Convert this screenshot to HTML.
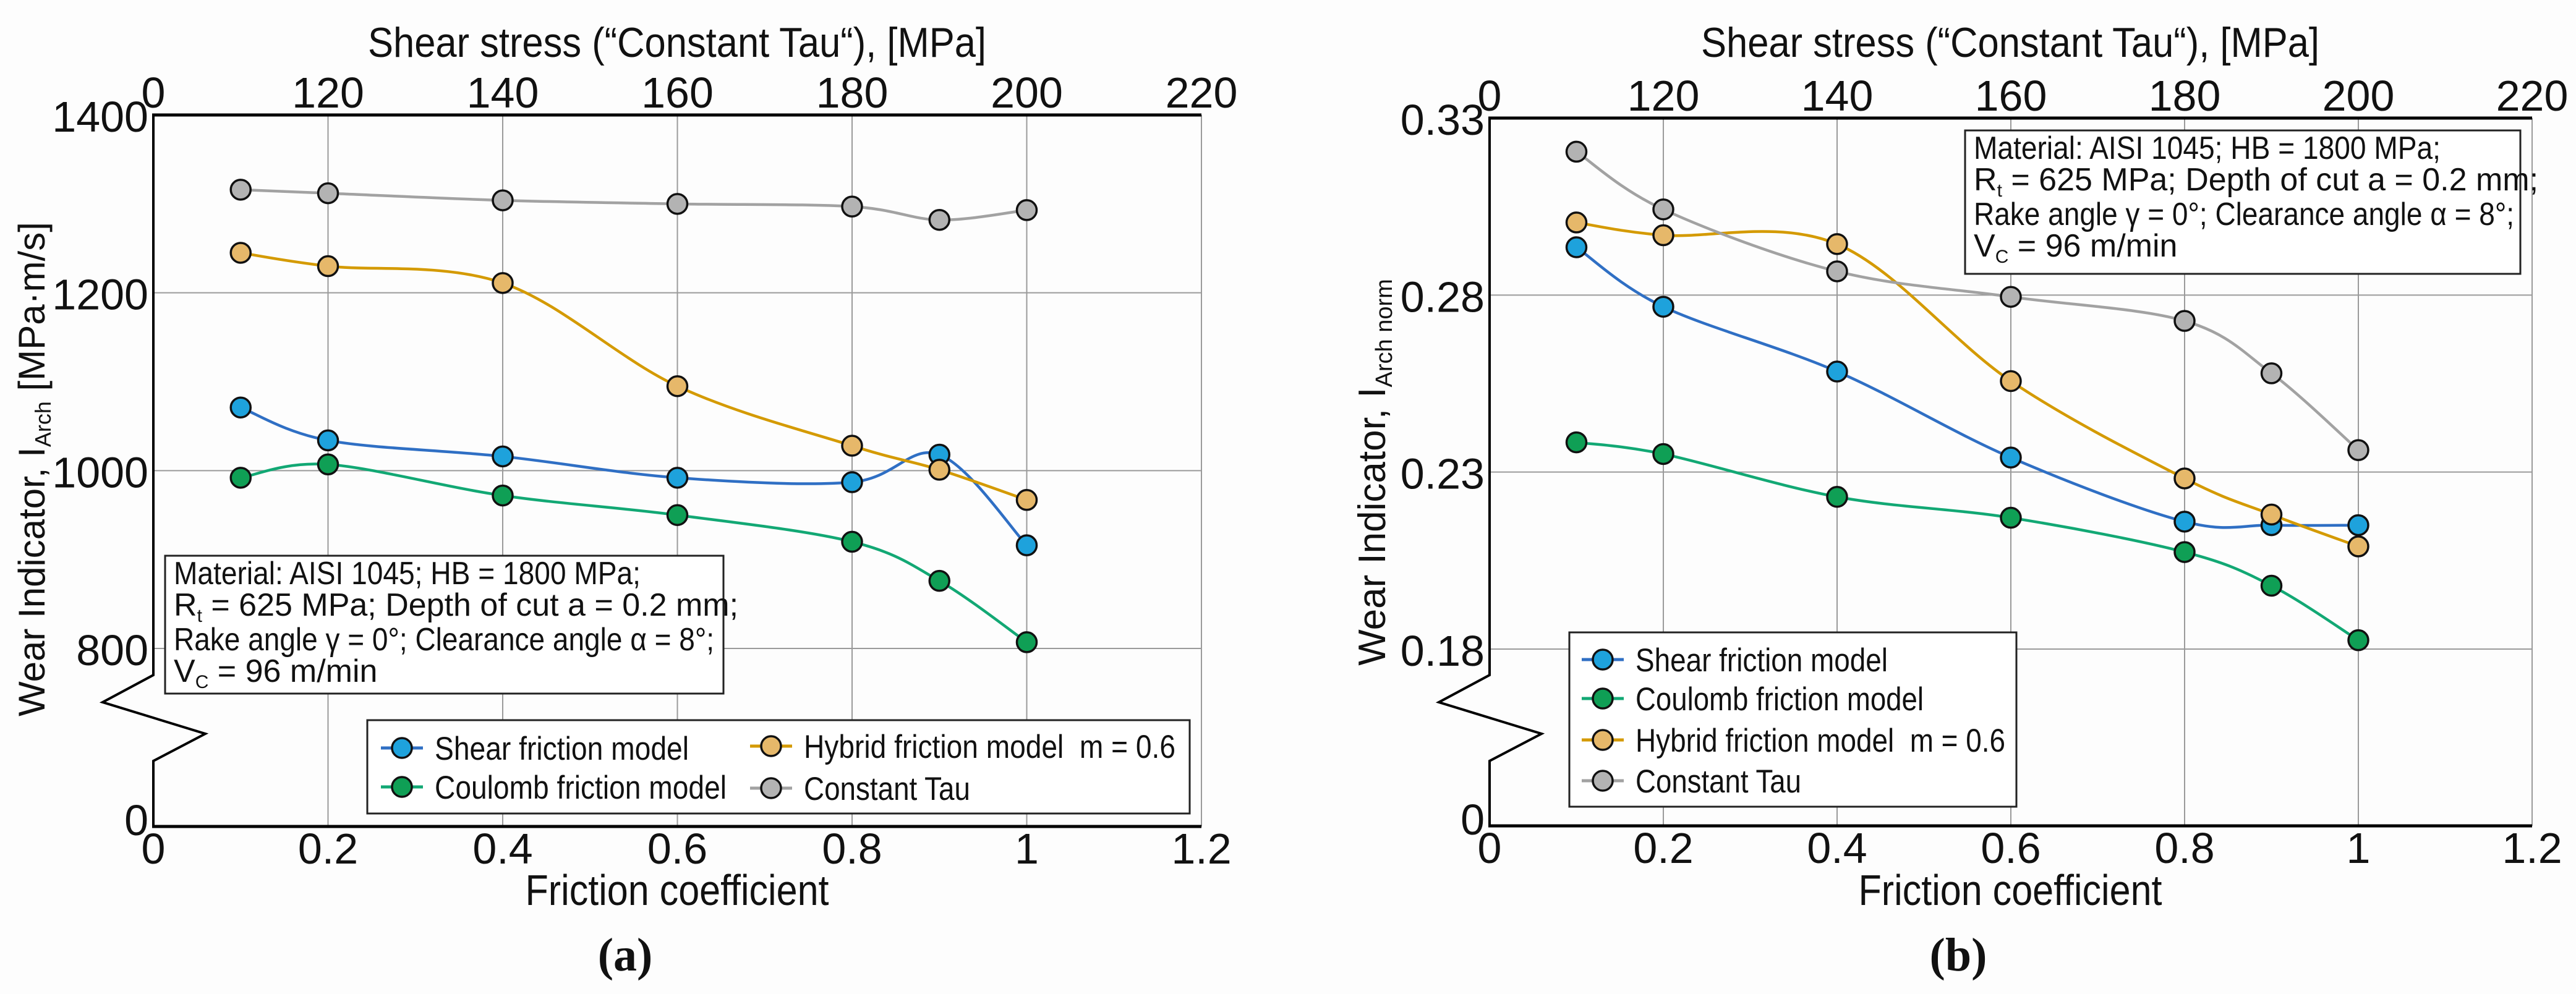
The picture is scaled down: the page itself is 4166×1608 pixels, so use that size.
<!DOCTYPE html>
<html><head><meta charset="utf-8">
<style>
html,body{margin:0;padding:0;background:#fff;}
svg{display:block;}
text{font-family:"Liberation Sans Narrow","Liberation Sans",sans-serif;fill:#111;}
.ser{font-family:"Liberation Serif",serif;font-weight:bold;}
.wide{font-family:"Liberation Sans",sans-serif;}
</style></head>
<body>
<svg id="fig" width="4166" height="1608" viewBox="0 0 4166 1608" xmlns="http://www.w3.org/2000/svg">
<rect width="4166" height="1608" fill="#fdfdfd"/>
</svg>
<script>
// ---- data ----
const frictionX = [0.1, 0.2, 0.4, 0.6, 0.8, 0.9, 1.0];
const seriesNames = ["Shear friction model", "Coulomb friction model", "Hybrid friction model\u00A0\u00A0m = 0.6", "Constant Tau"];
const aShear   = [1071, 1034, 1016, 992, 987, 1018, 916];
const aCoulomb = [992, 1007, 972, 950, 920, 876, 807];
const aHybrid  = [1245, 1230, 1211, 1095, 1028, 1001, 967];
const aTau     = [1316, 1312, 1304, 1300, 1297, 1282, 1293];
const bShear   = [0.2935, 0.2767, 0.2584, 0.2341, 0.2160, 0.2150, 0.2150];
const bCoulomb = [0.2384, 0.2351, 0.2230, 0.2171, 0.2074, 0.1979, 0.1825];
const bHybrid  = [0.3005, 0.2969, 0.2944, 0.2557, 0.2282, 0.2180, 0.2090];
const bTau     = [0.3205, 0.3042, 0.2867, 0.2795, 0.2727, 0.2579, 0.2362];
const xTicks = [0, 0.2, 0.4, 0.6, 0.8, 1, 1.2];
const xTickLabels = ["0", "0.2", "0.4", "0.6", "0.8", "1", "1.2"];
const topTickLabels = ["0", "120", "140", "160", "180", "200", "220"];
const aYTicks = [1400, 1200, 1000, 800];
const aYTickLabels = ["1400", "1200", "1000", "800"];
const bYTicks = [0.33, 0.28, 0.23, 0.18];
const bYTickLabels = ["0.33", "0.28", "0.23", "0.18"];

const NS = "http://www.w3.org/2000/svg";
const svg = document.getElementById("fig");
const lineCols = ["#2f6fc4", "#12a874", "#d49a00", "#a2a2a2"];
const fillCols = ["#1ea2dc", "#0f9f55", "#e6b86a", "#b3b3b3"];

function el(tag, attrs, parent) {
  const e = document.createElementNS(NS, tag);
  for (const k in attrs) e.setAttribute(k, attrs[k]);
  (parent || svg).appendChild(e);
  return e;
}
function txt(s, x, y, size, anchor, len, parent) {
  const t = el("text", {x: x, y: y, "font-size": size, "text-anchor": anchor || "start"}, parent);
  if (len) { t.setAttribute("textLength", len); t.setAttribute("lengthAdjust", "spacingAndGlyphs"); }
  t.textContent = s;
  return t;
}
function spline(pts) {
  let d = "M" + pts[0][0] + "," + pts[0][1];
  for (let i = 0; i < pts.length - 1; i++) {
    const p0 = pts[Math.max(0, i - 1)], p1 = pts[i], p2 = pts[i + 1], p3 = pts[Math.min(pts.length - 1, i + 2)];
    const c1x = p1[0] + (p2[0] - p0[0]) / 6, c1y = p1[1] + (p2[1] - p0[1]) / 6;
    const c2x = p2[0] - (p3[0] - p1[0]) / 6, c2y = p2[1] - (p3[1] - p1[1]) / 6;
    d += " C" + c1x + "," + c1y + " " + c2x + "," + c2y + " " + p2[0] + "," + p2[1];
  }
  return d;
}

function panel(cfg) {
  const g = el("g", {});
  
  
  const X0 = cfg.x0, X1 = cfg.x1, Y0 = cfg.yTop, YB = cfg.yBot;
  const xs = v => X0 + (v / 1.2) * (X1 - X0);
  const ys = v => Y0 + (cfg.yMax - v) / (cfg.yMax - cfg.yLow) * (cfg.yLowPx - Y0);
  const grid = el("g", {stroke: "#9a9a9a", "stroke-width": 2}, g);
  
  
  xTicks.forEach((v, i) => { if (i > 0) el("line", {x1: xs(v), x2: xs(v), y1: Y0, y2: YB}, grid); });
  cfg.yTicks.forEach((v, i) => { if (i > 0) el("line", {x1: X0, x2: X1, y1: ys(v), y2: ys(v)}, grid); });
  const ax = el("g", {stroke: "#000", "stroke-width": 5, fill: "none"}, g);
  
  
  el("line", {x1: X0 - 2, x2: X1, y1: Y0, y2: Y0}, ax);
  el("line", {x1: X0 - 2, x2: X1, y1: YB, y2: YB}, ax);
  const bk = cfg.brk;
  el("polyline", {points: `${X0},${Y0} ${X0},${bk} ${X0-82},${bk+44} ${X0+84},${bk+95} ${X0},${bk+139} ${X0},${YB}`, "stroke-width": 4}, ax);
  xTicks.forEach((v, i) => {
    const t = txt(xTickLabels[i], xs(v), YB + 60, 70, "middle");
    
    
    const tt = txt(topTickLabels[i], xs(v), Y0 - 12, 70, "middle");
    
    
  });
  cfg.yTicks.forEach((v, i) => {
    const t = txt(cfg.yLabels[i], X0 - 8, ys(v) + 27, 70, "end");
    
    
  });
  const z = txt("0", X0 - 8, YB + 14, 70, "end");
  
  
  const tt = txt("Shear stress (\u201CConstant Tau\u201C), [MPa]", cfg.titleX, 92, 68, "middle", 1000);
  
  
  const xt = txt("Friction coefficient", cfg.titleX, 1464, 70, "middle", 491);
  
  
  const pl = el("text", {x: cfg.capX, y: 1570, "font-size": 76, "text-anchor": "middle", class: "ser"}, g);
  pl.textContent = cfg.cap;
  
  
  const yt = el("text", {x: 0, y: 0, "font-size": cfg.ytSize, "text-anchor": "middle", class: "wide",
    transform: `translate(${cfg.ytX},${cfg.ytY}) rotate(-90)`}, g);
  
  
  yt.innerHTML = cfg.ytHTML;
  const ib = el("g", {}, g);
  
  
  el("rect", {x: cfg.ib[0], y: cfg.ib[1], width: cfg.ib[2], height: cfg.ib[3], fill: "#fff", stroke: "#222", "stroke-width": 3}, ib);
  const lx = cfg.ib[0] + 14, l0 = cfg.ib[1];
  txt("Material: AISI 1045; HB = 1800 MPa;", lx, l0 + 46, 52, "start", 755, ib);
  const t2 = el("text", {x: lx, y: l0 + 97, "font-size": 52}, ib);
  t2.innerHTML = 'R<tspan font-size="30" dy="10">t</tspan><tspan dy="-10"> = 625 MPa; Depth of cut a = 0.2 mm;</tspan>';
  const t3 = el("text", {x: lx, y: l0 + 153, "font-size": 52, textLength: 874, lengthAdjust: "spacingAndGlyphs"}, ib);
  t3.textContent = "Rake angle \u03B3 = 0\u00B0; Clearance angle \u03B1 = 8\u00B0;";
  const t4 = el("text", {x: lx, y: l0 + 204, "font-size": 52}, ib);
  t4.innerHTML = 'V<tspan font-size="30" dy="10">C</tspan><tspan dy="-10"> = 96 m/min</tspan>';
  cfg.series.forEach((vals, si) => {
    const sg = el("g", {}, g);
    
    
    const pts = frictionX.map((x, i) => [xs(x), ys(vals[i])]);
    el("path", {d: spline(pts), fill: "none", stroke: lineCols[si], "stroke-width": 4.5}, sg);
    pts.forEach(p => {
      const c = el("circle", {cx: p[0], cy: p[1], r: 16, fill: fillCols[si], stroke: "#111", "stroke-width": 3.5}, sg);
      
      
    });
  });
  const lg = el("g", {}, g);
  
  
  el("rect", {x: cfg.lg[0], y: cfg.lg[1], width: cfg.lg[2], height: cfg.lg[3], fill: "#fff", stroke: "#222", "stroke-width": 3}, lg);
  cfg.lgPos.forEach((p, si) => {
    const eg = el("g", {}, lg);
    
    
    el("line", {x1: p[0] - 34, x2: p[0] + 34, y1: p[1], y2: p[1], stroke: lineCols[si], "stroke-width": 5}, eg);
    el("circle", {cx: p[0], cy: p[1], r: 16, fill: fillCols[si], stroke: "#111", "stroke-width": 3.5}, eg);
    txt(seriesNames[si], p[0] + 53, p[1] + 19, 53, "start", cfg.lgLen[si], eg);
  });
}

panel({
  name: "chart-a", x0: 248, x1: 1943, yTop: 186, yBot: 1337,
  yMax: 1400, yLow: 800, yLowPx: 1049, brk: 1092,
  yTicks: aYTicks, yLabels: aYTickLabels,
  titleX: 1095, capX: 1011, cap: "(a)",
  ytX: 72, ytY: 759, ytSize: 60,
  ytHTML: 'Wear Indicator, I<tspan font-size="36" dy="10">Arch</tspan><tspan dy="-10"> [MPa\u00B7m/s]</tspan>',
  ib: [267, 899, 903, 223],
  series: [aShear, aCoulomb, aHybrid, aTau],
  lg: [594, 1165, 1330, 151],
  lgPos: [[650, 1210], [650, 1273], [1247, 1207], [1247, 1275]],
  lgLen: [411, 472, 601, 269]
});
panel({
  name: "chart-b", x0: 2409, x1: 4095, yTop: 191, yBot: 1336,
  yMax: 0.33, yLow: 0.18, yLowPx: 1050, brk: 1092,
  yTicks: bYTicks, yLabels: bYTickLabels,
  titleX: 3251, capX: 3167, cap: "(b)",
  ytX: 2240, ytY: 764, ytSize: 62,
  ytHTML: 'Wear Indicator, I<tspan font-size="38" dy="11">Arch norm</tspan>',
  ib: [3178, 211, 898, 232],
  series: [bShear, bCoulomb, bHybrid, bTau],
  lg: [2538, 1023, 723, 282],
  lgPos: [[2592, 1067], [2592, 1130], [2592, 1197], [2592, 1263]],
  lgLen: [408, 466, 598, 268]
});
</script>
</body></html>
